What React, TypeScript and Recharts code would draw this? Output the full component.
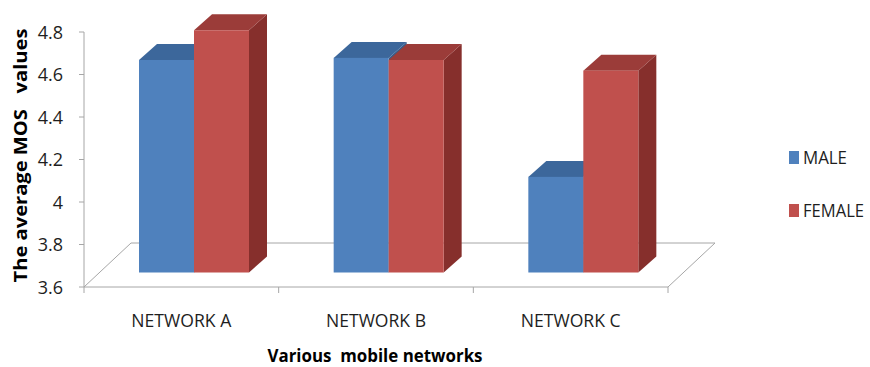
import React from 'react';
import { BarChart, Bar, XAxis, YAxis, ReferenceArea } from 'recharts';

const categories = ['NETWORK A', 'NETWORK B', 'NETWORK C'];
const maleValues = [4.6, 4.61, 4.05];
const femaleValues = [4.74, 4.6, 4.55];
const seriesNames = ['MALE', 'FEMALE'];
const yTicks = [3.6, 3.8, 4, 4.2, 4.4, 4.6, 4.8];
const xTitle = 'Various  mobile networks';
const yTitle = 'The average MOS   values';

const data = categories.map((name, i) => ({
  name,
  male: maleValues[i],
  female: femaleValues[i],
}));

const FONT = '"Open Sans", "Noto Sans", sans-serif';
const AXIS_GRAY = '#A6A6A6';
const TEXT = '#1e1e1e';

// depth offsets used for the pseudo-3D floor and boxes
const FLOOR_DX = 47;
const FLOOR_DY = -44;
const BAR_SHIFT_X = 13;
const BAR_SHIFT_Y = -14.5;
const BAR_DX = 18;
const BAR_DY = -16;

const palette = {
  male: { front: '#4F81BD', top: '#3C679B', side: '#385D8A' },
  female: { front: '#C0504D', top: '#9B3C39', side: '#862F2C' },
};

type Faces = { front: string; top: string; side: string };

const makeBox = (c: Faces) => (props: any) => {
  const { x, y, width, height } = props;
  if (x == null || y == null || !width || height == null) return <g />;
  const fx = x + BAR_SHIFT_X;
  const fy = y + BAR_SHIFT_Y;
  const w = width;
  const h = height;
  const top = `${fx},${fy} ${fx + BAR_DX},${fy + BAR_DY} ${fx + w + BAR_DX},${fy + BAR_DY} ${fx + w},${fy}`;
  const side = `${fx + w},${fy} ${fx + w + BAR_DX},${fy + BAR_DY} ${fx + w + BAR_DX},${fy + h + BAR_DY} ${fx + w},${fy + h}`;
  return (
    <g>
      <polygon points={side} fill={c.side} />
      <polygon points={top} fill={c.top} />
      <rect x={fx} y={fy} width={w} height={h} fill={c.front} />
    </g>
  );
};

const Floor = (props: any) => {
  const { x, y, width, height } = props;
  const by = y + height;
  const pts = [
    [x, by],
    [x + FLOOR_DX, by + FLOOR_DY],
    [x + width + FLOOR_DX, by + FLOOR_DY],
    [x + width, by],
  ]
    .map((p) => p.join(','))
    .join(' ');
  return <polyline points={pts} fill="none" stroke={AXIS_GRAY} strokeWidth={1} />;
};

const XTick = (props: any) => {
  const { x, y, payload, index, visibleTicksCount, width } = props;
  const count = visibleTicksCount || categories.length;
  const band = (width || 584) / count;
  const left = x - band / 2;
  return (
    <g>
      <line x1={left} y1={y} x2={left} y2={y + 6} stroke={AXIS_GRAY} />
      {index === count - 1 && (
        <line x1={left + band} y1={y} x2={left + band} y2={y + 6} stroke={AXIS_GRAY} />
      )}
      <text
        x={x}
        y={y + 40}
        textAnchor="middle"
        fontFamily={FONT}
        fontSize={19}
        fill={TEXT}
        textLength={100}
        lengthAdjust="spacingAndGlyphs"
      >
        {payload.value}
      </text>
    </g>
  );
};

const YTick = (props: any) => {
  const { x, y, payload } = props;
  return (
    <g>
      <line x1={x - 5} y1={y} x2={x} y2={y} stroke={AXIS_GRAY} />
      <text x={x - 21} y={y + 6.5} textAnchor="end" fontFamily={FONT} fontSize={18} fill={TEXT}>
        {String(payload.value)}
      </text>
    </g>
  );
};

const XTitle = (props: any) => {
  const vb = props.viewBox || { x: 84, y: 287, width: 584, height: 80 };
  return (
    <text
      x={vb.x + vb.width / 2 - 1}
      y={vb.y + 75}
      textAnchor="middle"
      fontFamily={FONT}
      fontWeight="bold"
      fontSize={17}
      fill="#000"
      textLength={215}
      lengthAdjust="spacingAndGlyphs"
      style={{ whiteSpace: 'pre' }}
    >
      {xTitle}
    </text>
  );
};

const YTitle = (props: any) => {
  const vb = props.viewBox || { x: 24, y: 32, width: 60, height: 255 };
  const cx = vb.x - 3;
  const cy = vb.y + vb.height / 2 - 4;
  return (
    <text
      x={cx}
      y={cy}
      transform={`rotate(-90 ${cx} ${cy})`}
      dy={6}
      textAnchor="middle"
      fontFamily={FONT}
      fontWeight="bold"
      fontSize={17}
      fill="#000"
      textLength={254}
      lengthAdjust="spacingAndGlyphs"
      style={{ whiteSpace: 'pre' }}
    >
      {yTitle}
    </text>
  );
};

const legendRows = [
  { name: seriesNames[0], color: palette.male.front, top: 151, textWidth: 44 },
  { name: seriesNames[1], color: palette.female.front, top: 204, textWidth: 61 },
];

const LegendBox = () => (
  <svg
    width={90}
    height={100}
    style={{ position: 'absolute', left: 780, top: 140, overflow: 'visible' }}
  >
    {legendRows.map((r) => (
      <g key={r.name} transform="translate(-780 -140)">
        <rect x={789} y={r.top} width={10} height={13} fill={r.color} />
        <text
          x={803}
          y={r.top + 13}
          fontFamily={FONT}
          fontSize={17.5}
          fill={TEXT}
          textLength={r.textWidth}
          lengthAdjust="spacingAndGlyphs"
        >
          {r.name}
        </text>
      </g>
    ))}
  </svg>
);

export default function App() {
  return (
    <div style={{ position: 'absolute', left: 0, top: 0, width: 870, height: 367, background: '#fff' }}>
      <BarChart
        width={870}
        height={367}
        data={data}
        margin={{ top: 32, right: 202, bottom: 0, left: 24 }}
        barGap={0}
      >
        <ReferenceArea y1={3.6} y2={4.8} shape={Floor} fill="none" stroke="none" ifOverflow="visible" />
        <XAxis
          dataKey="name"
          height={80}
          interval={0}
          tickLine={false}
          tickSize={0}
          tickMargin={0}
          axisLine={{ stroke: AXIS_GRAY }}
          tick={<XTick />}
          label={{ content: XTitle }}
        />
        <YAxis
          type="number"
          domain={[3.6, 4.8]}
          ticks={yTicks}
          width={60}
          tickLine={false}
          tickSize={0}
          tickMargin={0}
          axisLine={{ stroke: AXIS_GRAY }}
          tick={<YTick />}
          label={{ content: YTitle }}
        />
        <Bar dataKey="male" name={seriesNames[0]} barSize={55} shape={makeBox(palette.male)} isAnimationActive={false} />
        <Bar dataKey="female" name={seriesNames[1]} barSize={55} shape={makeBox(palette.female)} isAnimationActive={false} />
      </BarChart>
      <LegendBox />
    </div>
  );
}
